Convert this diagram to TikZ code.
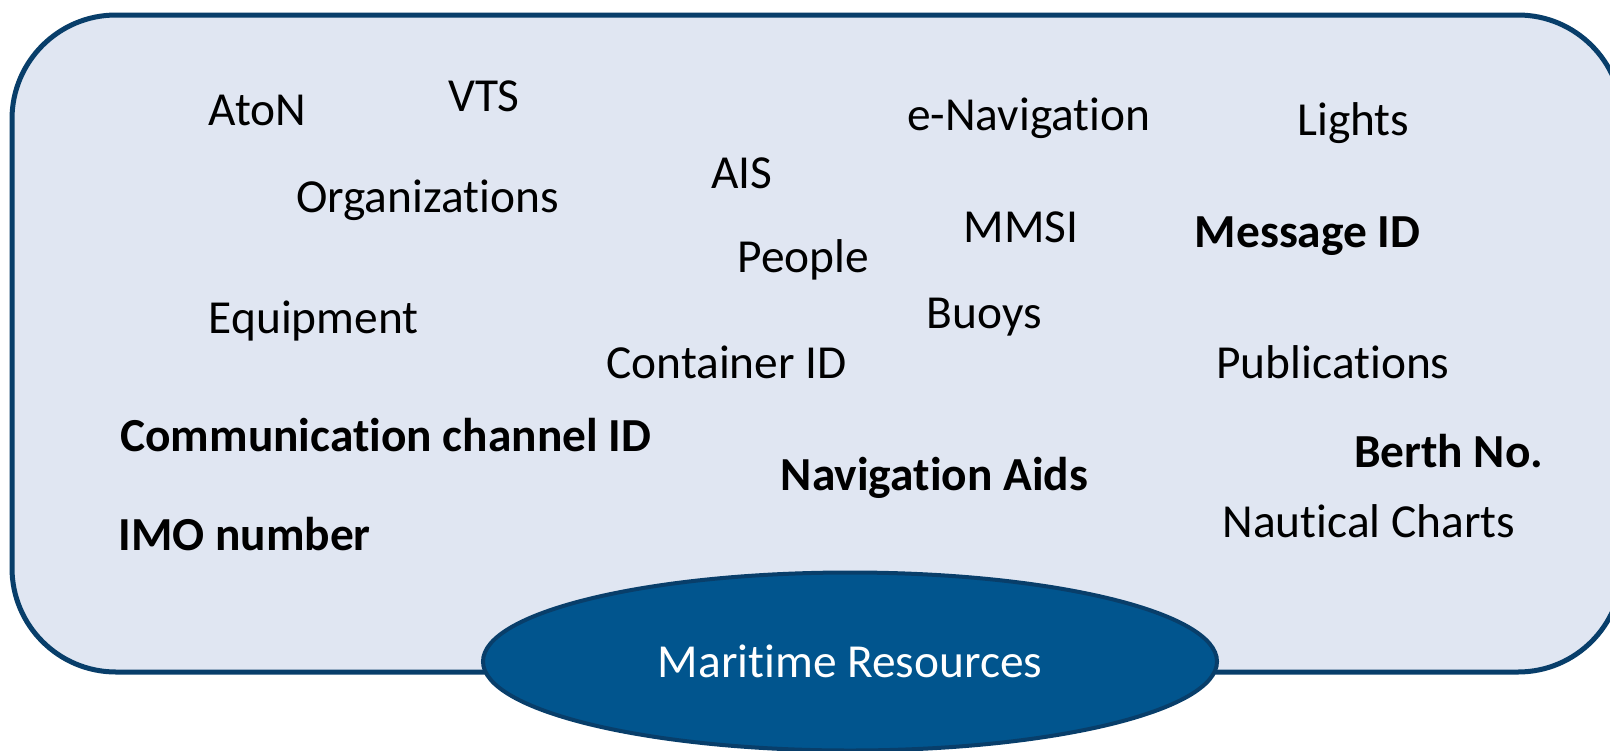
\documentclass[tikz,border=0pt]{standalone}
\usepackage{fontspec}
\setmainfont{Carlito}[Ligatures={NoCommon,NoRare,NoContextual}]
\usetikzlibrary{shapes.geometric}
\definecolor{borderblue}{RGB}{8,62,106}
\definecolor{panelfill}{RGB}{224,230,242}
\definecolor{ellfill}{RGB}{1,85,142}
\tikzset{
  term/.style={anchor=base west, inner sep=0pt, font=\fontsize{23.7}{28}\selectfont, text=black},
  bterm/.style={term, font=\fontsize{23.7}{28}\selectfont\bfseries},
  panel/.style={draw=borderblue, fill=panelfill, line width=2.5pt, rounded corners=52pt},
  hub/.style={ellipse, draw=borderblue, fill=ellfill, line width=2pt, text=white, inner sep=0pt,
    minimum width=367pt, minimum height=89pt, font=\fontsize{23.7}{28}\selectfont}
}
\begin{document}
\begin{tikzpicture}[x=0.5pt, y=-0.5pt]
\useasboundingbox (0,0) rectangle (1610,750);
\clip (0,0) rectangle (1610,750);
\fill[white] (0,0) rectangle (1610,750);
\draw[panel] (12,15) rectangle (1622,672);
\node[term] (aton) at (208.5,125.3) {AtoN};
\node[term] (vts) at (447.8,111) {VTS};
\node[term] (enav) at (906.8,130.4) {e-Navigation};
\node[term] (lights) at (1297,135.6) {Lights};
\node[term] (ais) at (710.7,188) {AIS};
\node[term] (org) at (295.8,212.6) {Organizations};
\node[term] (mmsi) at (963.3,242.4) {MMSI};
\node[bterm] (msgid) at (1194.4,247.5) {Message ID};
\node[term] (people) at (737.4,272) {People};
\node[term] (buoys) at (926.4,328.6) {Buoys};
\node[term] (equip) at (208.5,333.8) {Equipment};
\node[term] (cont) at (606,378) {Container ID};
\node[term] (pubs) at (1216,378) {Publications};
\node[bterm] (comm) at (120,451) {Communication channel ID};
\node[bterm] (berth) at (1353.6,467) {Berth No.};
\node[bterm] (navaids) at (780.5,490) {Navigation Aids};
\node[term] (charts) at (1222,537) {Nautical Charts};
\node[bterm] (imo) at (118,550.5) {IMO number};
\node[hub] (mr) at (850,661.5) {Maritime Resources};
\end{tikzpicture}
\end{document}
